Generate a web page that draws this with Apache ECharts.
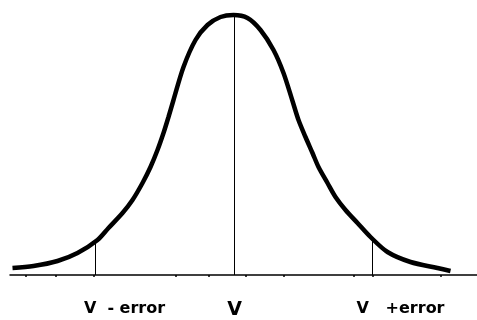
<!DOCTYPE html>
<html>
<head>
<meta charset="utf-8">
<script src="https://cdn.jsdelivr.net/npm/echarts@6/dist/echarts.min.js"></script>
<style>
  html, body { margin: 0; padding: 0; background: #fff; }
  #chart { width: 477px; height: 320px; }
</style>
</head>
<body>
<div id="chart"></div>
<script>
// offset from V along the baseline, and height of the curve above it
const curveX = [-222, -201, -177, -157, -137, -126, -112, -102, -92, -84, -77, -71, -66, -61, -51, -39, -27, -14, -1,
  13, 26, 39, 49, 58, 64, 71, 78, 84, 93, 101, 111, 123, 136, 153, 176, 203, 216];
const curveY = [7, 9, 14, 22, 35, 47, 62, 75, 92, 108, 125, 142, 158, 175, 208, 235, 250, 258, 260,
  257, 245, 225, 202, 174, 155, 138, 122, 108, 92, 78, 65, 52, 38, 23, 13, 7, 4];

// vertical marker lines
const markerX = [-139, 0, 138];
const markerTop = [33, 260, 37];

// labels under the baseline
const labelX = [-110, 0, 166];
const labelText = ['V  - error', 'V', 'V   +error'];

// small tick marks on the baseline
const tickX = [-209, -179, -141, -59, -26, 11, 49, 119, 138, 206];

const curveData = curveX.map((x, i) => [x, curveY[i]]);

const markerSeries = markerX.map((x, i) => ({
  type: 'line',
  symbol: 'none',
  silent: true,
  lineStyle: { color: '#000', width: 1 },
  data: [[x, 0], [x, markerTop[i]]]
}));

const chart = echarts.init(document.getElementById('chart'));
chart.setOption({
  animation: false,
  backgroundColor: '#fff',
  grid: { left: 10, right: 0, top: 0, bottom: 45 },
  xAxis: {
    type: 'value',
    min: -224.5,
    max: 242.5,
    splitLine: { show: false },
    axisLine: { show: true, lineStyle: { color: '#000', width: 1.5 } },
    axisTick: { show: true, customValues: tickX, length: 2, lineStyle: { color: '#000', width: 1.5 } },
    axisLabel: {
      show: true,
      customValues: labelX,
      margin: 26,
      formatter: function (v) {
        const i = labelX.indexOf(v);
        if (i < 0) return '';
        return i === 1 ? '{big|' + labelText[i] + '}' : '{small|' + labelText[i] + '}';
      },
      rich: {
        small: { fontFamily: 'DejaVu Sans', fontWeight: 'bold', fontSize: 16, color: '#000' },
        big: { fontFamily: 'DejaVu Sans', fontWeight: 'bold', fontSize: 19, color: '#000' }
      }
    }
  },
  yAxis: {
    type: 'value',
    min: 0,
    max: 275,
    show: false
  },
  series: [
    {
      type: 'line',
      symbol: 'none',
      smooth: 0.3,
      lineStyle: { color: '#000', width: 4.5 },
      data: curveData,
      z: 3
    }
  ].concat(markerSeries)
});
</script>
</body>
</html>
